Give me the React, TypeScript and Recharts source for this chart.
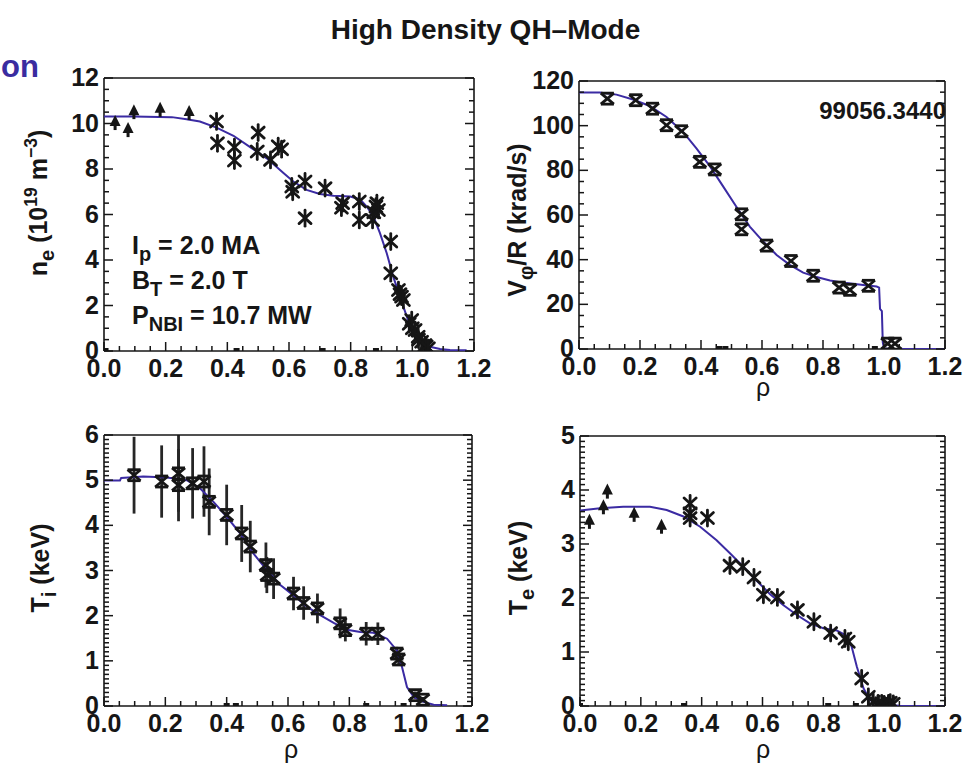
import React from "react";
import { ComposedChart, Scatter, XAxis, YAxis, ErrorBar } from "recharts";

const FONT = '"Liberation Sans", Arial, Helvetica, sans-serif';
const INK = "#161616";
const FIT = "#3b2ba3";

// n_e panel (10^19 m^-3)
const neFitRho = [0, 0.095, 0.22, 0.268, 0.311, 0.365, 0.42, 0.474, 0.528, 0.582, 0.614, 0.657, 0.7, 0.744, 0.798, 0.83, 0.852, 0.874, 0.895, 0.917, 0.938, 0.96, 0.982, 1.003, 1.025, 1.057, 1.09, 1.122, 1.176];
const neFitVal = [10.31, 10.31, 10.28, 10.19, 10.09, 9.82, 9.46, 8.96, 8.47, 7.82, 7.45, 7.08, 6.9, 6.82, 6.79, 6.67, 6.35, 5.91, 5.18, 4.3, 3.27, 2.39, 1.51, 0.78, 0.41, 0.19, 0.09, 0.04, 0.03];
const neTriRho = [0.036, 0.078, 0.097, 0.182, 0.276];
const neTriVal = [10.02, 9.71, 10.5, 10.6, 10.46];
const neStarRho = [0.365, 0.368, 0.423, 0.423, 0.5, 0.497, 0.54, 0.565, 0.576, 0.609, 0.612, 0.652, 0.652, 0.717, 0.774, 0.77, 0.828, 0.828, 0.871, 0.875, 0.882, 0.885, 0.89, 0.93, 0.93, 0.955, 0.96, 0.965, 0.971, 0.99, 0.998, 1.0, 1.009, 1.019, 1.02, 1.03, 1.041, 1.045, 1.052];
const neStarVal = [10.09, 9.13, 8.96, 8.37, 9.6, 8.77, 8.4, 9.0, 8.87, 7.23, 7.0, 7.45, 5.84, 7.16, 6.5, 6.3, 6.57, 5.76, 5.76, 6.1, 6.35, 6.5, 6.2, 4.81, 3.42, 2.68, 2.5, 2.39, 2.24, 1.2, 1.36, 1.0, 0.92, 0.63, 0.5, 0.41, 0.26, 0.2, 0.12];
const neZeroRho = [0.005, 0.43, 0.709, 0.882];

// V_phi/R panel (krad/s)
const vFitRho = [0, 0.068, 0.123, 0.177, 0.232, 0.287, 0.341, 0.385, 0.429, 0.473, 0.516, 0.56, 0.604, 0.648, 0.691, 0.735, 0.779, 0.823, 0.877, 0.932, 0.976, 0.984, 0.987, 0.993, 0.996, 1.0, 1.02, 1.2];
const vFitVal = [114.8, 114.8, 113.9, 111.7, 108.8, 103.9, 97.2, 89.8, 81.9, 72.7, 63.7, 54.8, 48.1, 42.1, 37.7, 34.2, 32.2, 30.7, 29.5, 28.7, 28.0, 27.5, 18, 17, 3, 0.3, 0, 0];
const vRho = [0.093, 0.186, 0.241, 0.287, 0.336, 0.396, 0.445, 0.533, 0.533, 0.615, 0.695, 0.768, 0.853, 0.888, 0.949, 1.012, 1.036];
const vVal = [112.1, 111.4, 107.6, 100.2, 97.5, 83.8, 80.4, 60.3, 53.6, 46.3, 39.4, 32.8, 27.5, 26.5, 28.3, 2.4, 2.4];
const vZeroRho = [0.46, 0.48, 0.97];

// T_i panel (keV)
const tiFitRho = [0, 0.052, 0.056, 0.128, 0.205, 0.27, 0.313, 0.357, 0.4, 0.444, 0.487, 0.531, 0.575, 0.618, 0.662, 0.705, 0.749, 0.792, 0.836, 0.879, 0.923, 0.955, 0.972, 0.988, 1.01, 1.042, 1.075, 1.119];
const tiFitVal = [4.99, 4.99, 5.05, 5.08, 5.06, 5.0, 4.82, 4.52, 4.19, 3.82, 3.38, 3.01, 2.68, 2.45, 2.2, 2.01, 1.84, 1.69, 1.64, 1.62, 1.49, 1.23, 0.86, 0.42, 0.2, 0.09, 0.03, 0.015];
const tiRho = [0.098, 0.188, 0.243, 0.243, 0.289, 0.326, 0.343, 0.4, 0.449, 0.477, 0.528, 0.531, 0.553, 0.618, 0.651, 0.696, 0.77, 0.787, 0.855, 0.893, 0.955, 0.961, 1.015, 1.04];
const tiVal = [5.11, 4.97, 5.15, 4.89, 4.93, 4.97, 4.52, 4.23, 3.82, 3.53, 3.12, 2.9, 2.82, 2.49, 2.28, 2.16, 1.83, 1.68, 1.6, 1.6, 1.16, 1.03, 0.24, 0.14];
const tiErr = [0.85, 0.8, 0.85, 0.8, 0.78, 0.78, 0.74, 0.67, 0.63, 0.57, 0.5, 0.4, 0.45, 0.37, 0.37, 0.33, 0.33, 0.25, 0.26, 0.25, 0.15, 0.12, 0.08, 0.06];
const tiZeroRho = [0.4, 0.43, 0.855, 0.977];

// T_e panel (keV)
const teFitRho = [0, 0.066, 0.142, 0.23, 0.285, 0.34, 0.395, 0.449, 0.493, 0.537, 0.581, 0.625, 0.668, 0.712, 0.756, 0.8, 0.844, 0.877, 0.893, 0.91, 0.932, 0.953, 0.986, 1.052, 1.2];
const teFitVal = [3.62, 3.66, 3.69, 3.69, 3.63, 3.51, 3.32, 3.07, 2.83, 2.58, 2.32, 2.07, 1.87, 1.69, 1.53, 1.44, 1.4, 1.3, 1.1, 0.73, 0.33, 0.11, 0.03, 0.006, 0];
const teTriRho = [0.031, 0.077, 0.09, 0.178, 0.268];
const teTriVal = [3.41, 3.68, 3.97, 3.54, 3.32];
const teStarRho = [0.362, 0.362, 0.362, 0.419, 0.493, 0.535, 0.572, 0.603, 0.649, 0.715, 0.769, 0.824, 0.871, 0.882, 0.926, 0.948, 0.964, 0.98, 0.992, 1.0, 1.014, 1.02, 1.03];
const teStarVal = [3.75, 3.57, 3.48, 3.48, 2.6, 2.58, 2.38, 2.06, 2.01, 1.78, 1.56, 1.35, 1.25, 1.19, 0.51, 0.17, 0.08, 0.05, 0.05, 0.03, 0.05, 0.06, 0.04];
const teZeroRho = [0.0, 0.342, 0.816, 0.907];

const zip = (xs: number[], ys: number[], es?: number[]) =>
  xs.map((x, i) => ({ x, y: ys[i], err: es ? es[i] : 0 }));
const onAxis = (xs: number[]) => xs.map((x) => ({ x, y: 0 }));

const range = (max: number, step: number) =>
  Array.from({ length: Math.round(max / step) + 1 }, (_, i) => +(i * step).toFixed(4));
const isMajor = (v: number, step: number) => Math.abs(v / step - Math.round(v / step)) < 1e-6;

const AXIS = { stroke: INK, strokeWidth: 1.6 };
const tickText = { fontFamily: FONT, fontWeight: 700, fontSize: 25, fill: INK } as const;

// markers
const Star = (p: any) => (
  <g stroke={INK} strokeWidth={2.8} strokeLinecap="round">
    <line x1={p.cx - 6} y1={p.cy - 5.5} x2={p.cx + 6} y2={p.cy + 5.5} />
    <line x1={p.cx - 6} y1={p.cy + 5.5} x2={p.cx + 6} y2={p.cy - 5.5} />
    <line x1={p.cx} y1={p.cy - 8} x2={p.cx} y2={p.cy + 8} />
  </g>
);
const Hourglass = (p: any) => (
  <g stroke={INK} strokeWidth={2.8}>
    <line x1={p.cx - 6.5} y1={p.cy - 5.5} x2={p.cx + 6.5} y2={p.cy + 5.5} />
    <line x1={p.cx - 6.5} y1={p.cy + 5.5} x2={p.cx + 6.5} y2={p.cy - 5.5} />
    <line x1={p.cx - 6.5} y1={p.cy - 5.5} x2={p.cx + 6.5} y2={p.cy - 5.5} />
    <line x1={p.cx - 6.5} y1={p.cy + 5.5} x2={p.cx + 6.5} y2={p.cy + 5.5} />
  </g>
);
const Tri = (p: any) => (
  <g fill={INK}>
    <path d={`M${p.cx},${p.cy - 8} L${p.cx + 5.5},${p.cy + 3} L${p.cx - 5.5},${p.cy + 3} Z`} />
    <rect x={p.cx - 1.5} y={p.cy + 2} width={3} height={5} />
  </g>
);
const Dot = (p: any) => <rect x={p.cx - 3} y={p.cy - 3} width={6} height={6} fill={INK} />;
const NoMark = () => <g />;

const MT = 15;
const MR = 25;

function Panel({ plotLeft, plotTop, plotW, plotH, yMax, yStep, yMinor, children }: any) {
  const xTicks = range(1.2, 0.05);
  const yTicks = range(yMax, yMinor);
  const bottomTick = (p: any) => {
    const major = isMajor(p.payload.value, 0.2);
    return (
      <g>
        <line x1={p.x} x2={p.x} y1={p.y} y2={p.y - (major ? 9 : 5)} stroke={INK} strokeWidth={1.5} />
        {major && (
          <text x={p.x} y={p.y + 26} textAnchor="middle" {...tickText}>
            {p.payload.value.toFixed(1)}
          </text>
        )}
      </g>
    );
  };
  const topTick = (p: any) => {
    const major = isMajor(p.payload.value, 0.2);
    return <line x1={p.x} x2={p.x} y1={p.y} y2={p.y + (major ? 9 : 5)} stroke={INK} strokeWidth={1.5} />;
  };
  const leftTick = (p: any) => {
    const major = isMajor(p.payload.value, yStep);
    return (
      <g>
        <line x1={p.x} x2={p.x + (major ? 9 : 5)} y1={p.y} y2={p.y} stroke={INK} strokeWidth={1.5} />
        {major && (
          <text x={p.x - 5} y={p.y + 8} textAnchor="end" {...tickText}>
            {Math.round(p.payload.value)}
          </text>
        )}
      </g>
    );
  };
  const rightTick = (p: any) => {
    const major = isMajor(p.payload.value, yStep);
    return <line x1={p.x} x2={p.x - (major ? 9 : 5)} y1={p.y} y2={p.y} stroke={INK} strokeWidth={1.5} />;
  };
  return (
    <div style={{ position: "absolute", left: plotLeft - 100, top: plotTop - 10 - MT }}>
      <ComposedChart width={100 + plotW + 10 + MR} height={MT + 10 + plotH + 50} margin={{ top: MT, right: MR, bottom: 0, left: 0 }}>
        <XAxis xAxisId="b" dataKey="x" type="number" domain={[0, 1.2]} ticks={xTicks} interval={0} tickSize={0} tickMargin={0} tickLine={false} axisLine={AXIS} height={50} tick={bottomTick} allowDataOverflow />
        <XAxis xAxisId="t" orientation="top" type="number" domain={[0, 1.2]} ticks={xTicks} interval={0} tickSize={0} tickMargin={0} tickLine={false} axisLine={AXIS} height={10} tick={topTick} allowDataOverflow />
        <YAxis yAxisId="l" dataKey="y" type="number" domain={[0, yMax]} ticks={yTicks} interval={0} tickSize={0} tickMargin={0} tickLine={false} axisLine={AXIS} width={100} tick={leftTick} allowDataOverflow />
        <YAxis yAxisId="r" orientation="right" type="number" domain={[0, yMax]} ticks={yTicks} interval={0} tickSize={0} tickMargin={0} tickLine={false} axisLine={AXIS} width={10} tick={rightTick} allowDataOverflow />
        {children}
      </ComposedChart>
    </div>
  );
}

const fitLine = (data: any[]) => (
  <Scatter xAxisId="b" yAxisId="l" data={data} line={{ stroke: FIT, strokeWidth: 2 }} shape={NoMark} isAnimationActive={false} />
);
const marks = (data: any[], shape: any) => (
  <Scatter xAxisId="b" yAxisId="l" data={data} shape={shape} isAnimationActive={false} />
);

const abs = (left: number, top: number, extra: any = {}) => ({
  position: "absolute" as const, left, top, fontFamily: FONT, fontWeight: 700, fontSize: 25, lineHeight: 1, color: INK, whiteSpace: "nowrap" as const, ...extra,
});
const sub = { fontSize: "0.8em", position: "relative" as const, top: "0.35em" };
const sup = { fontSize: "0.7em", position: "relative" as const, top: "-0.55em" };
const rot = (cx: number, cy: number) =>
  abs(cx, cy, { transform: "translate(-50%, -50%) rotate(-90deg)" });

export default function App() {
  return (
    <div style={{ position: "absolute", left: 0, top: 0, width: 971, height: 770, background: "#fff", overflow: "hidden" }}>
      <Panel plotLeft={104} plotTop={78} plotW={370} plotH={273} yMax={12} yStep={2} yMinor={0.5}>
        {fitLine(zip(neFitRho, neFitVal))}
        {marks(zip(neTriRho, neTriVal), Tri)}
        {marks(zip(neStarRho, neStarVal), Star)}
        {marks(onAxis(neZeroRho), Dot)}
      </Panel>
      <Panel plotLeft={579} plotTop={81} plotW={366} plotH={268} yMax={120} yStep={20} yMinor={5}>
        {fitLine(zip(vFitRho, vFitVal))}
        {marks(zip(vRho, vVal), Hourglass)}
        {marks(onAxis(vZeroRho), Dot)}
      </Panel>
      <Panel plotLeft={104} plotTop={435} plotW={368} plotH={271} yMax={6} yStep={1} yMinor={0.1}>
        {fitLine(zip(tiFitRho, tiFitVal))}
        <Scatter xAxisId="b" yAxisId="l" data={zip(tiRho, tiVal, tiErr)} shape={Hourglass} isAnimationActive={false}>
          <ErrorBar dataKey="err" direction="y" width={0} stroke="#262626" strokeWidth={2.8} isAnimationActive={false} />
        </Scatter>
        {marks(onAxis(tiZeroRho), Dot)}
      </Panel>
      <Panel plotLeft={580} plotTop={436} plotW={365} plotH={270} yMax={5} yStep={1} yMinor={0.1}>
        {fitLine(zip(teFitRho, teFitVal))}
        {marks(zip(teTriRho, teTriVal), Tri)}
        {marks(zip(teStarRho, teStarVal), Star)}
        {marks(onAxis(teZeroRho), Dot)}
      </Panel>

      <div style={abs(0, 16, { width: 971, textAlign: "center", fontSize: 28 })}>High Density QH–Mode</div>
      <div style={abs(1, 51, { fontSize: 31, color: "#3a2ca0" })}>on</div>

      <div style={rot(38, 203)}>
        n<span style={sub}>e</span> (10<span style={sup}>19</span> m<span style={sup}>−3</span>)
      </div>
      <div style={rot(517, 220)}>
        V<span style={sub}>φ</span>/R (krad/s)
      </div>
      <div style={rot(40, 568)}>
        T<span style={sub}>i</span> (keV)
      </div>
      <div style={rot(518, 568)}>
        T<span style={sub}>e</span> (keV)
      </div>

      <div style={abs(756, 375, { fontWeight: 400 })}>ρ</div>
      <div style={abs(284, 737, { fontWeight: 400 })}>ρ</div>
      <div style={abs(756, 737, { fontWeight: 400 })}>ρ</div>

      <div style={abs(132, 233)}>
        I<span style={sub}>p</span> = 2.0 MA
      </div>
      <div style={abs(132, 268)}>
        B<span style={sub}>T</span> = 2.0 T
      </div>
      <div style={abs(132, 303)}>
        P<span style={sub}>NBI</span> = 10.7 MW
      </div>
      <div style={abs(700, 99, { width: 246, textAlign: "right", fontSize: 24 })}>99056.3440</div>
    </div>
  );
}
